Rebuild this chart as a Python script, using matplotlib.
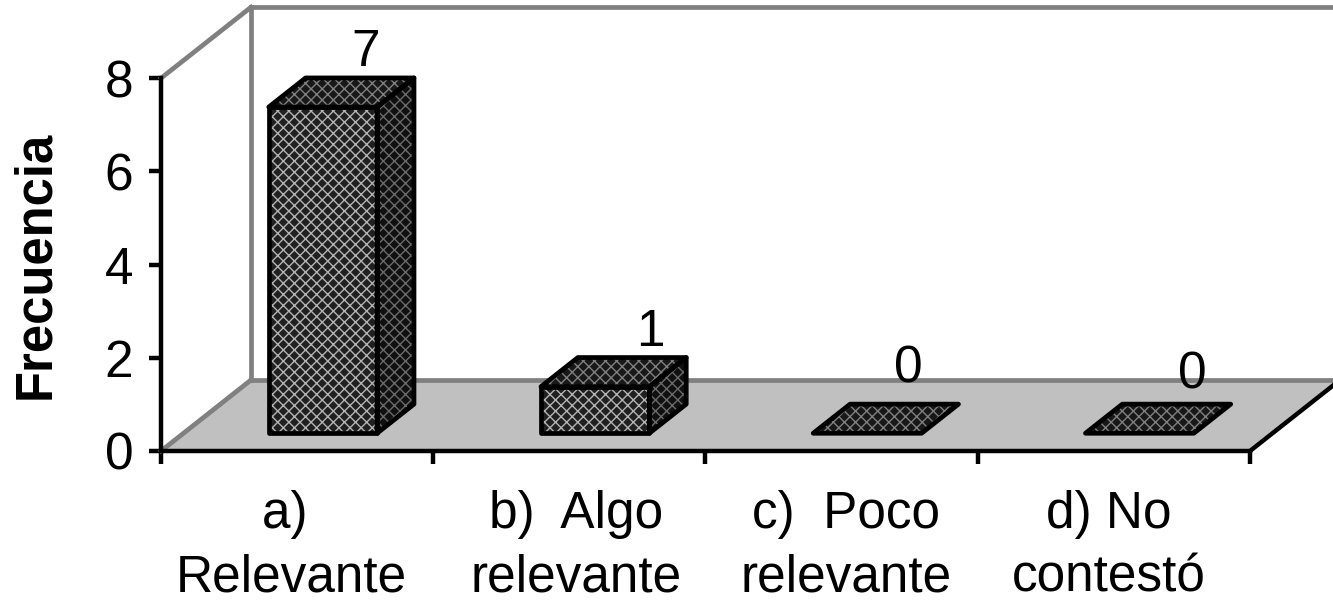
import matplotlib
matplotlib.use('Agg')
import matplotlib.pyplot as plt
from matplotlib.patches import Polygon

# values
categories = ['a) \nRelevante', 'b)  Algo\nrelevante', 'c)  Poco\nrelevante', 'd) No\ncontestó']
frecuencia = [7, 1, 0, 0]
y_ticks = [0, 2, 4, 6, 8]

plt.rcParams['font.family'] = ['Liberation Sans', 'DejaVu Sans']
plt.rcParams['hatch.linewidth'] = 1.0

W, H = 1333, 604
fig = plt.figure(figsize=(W / 100, H / 100), dpi=100)
ax = fig.add_axes([0, 0, 1, 1])

# one category = 272 px, one unit = 46.6 px, axis origin at pixel (161, 451)
px_x, px_y = 272.25, 46.6
ax.set_xlim(-161 / px_x, (W - 161) / px_x)
ax.set_ylim(-(H - 451) / px_y, 451 / px_y)

# oblique depth of the fake 3d box
depth_x, depth_y = 90 / px_x, 71 / px_y


def proj(x, v, d):
    return (x + d * depth_x, v + d * depth_y)


n = len(categories)
top = y_ticks[-1]
far = n + 1  # goes past the right border, gets clipped

# floor and walls
ax.add_patch(Polygon([proj(0, 0, 0), proj(n, 0, 0), proj(n, 0, 1), proj(0, 0, 1)],
                     facecolor='#c0c0c0', edgecolor='none', zorder=1))
wall = dict(color='#808080', lw=3.4, zorder=2, solid_capstyle='projecting')
for a, b in [(proj(0, 0, 0), proj(0, 0, 1)),
             (proj(0, 0, 1), proj(far, 0, 1)),
             (proj(0, 0, 1), proj(0, top, 1)),
             (proj(0, top, 0), proj(0, top, 1)),
             (proj(0, top, 1), proj(far, top, 1))]:
    ax.plot([a[0], b[0]], [a[1], b[1]], **wall)
ax.plot(*zip(proj(n, 0, 0), proj(n, 0, 1)), color='black', lw=3.2, zorder=3)

# bars
x0, x1 = 0.313, 0.711
d0, d1 = 0.25, 0.66
label_dx = [-48, -36, -50, -38]  # px from the back right corner
label_dy = [25, 25, 35, 29]  # px above the back top edge


def face(pts, color, lattice):
    ax.add_patch(Polygon(pts, facecolor=color, edgecolor=lattice, hatch='xxx', lw=0, zorder=4))
    ax.add_patch(Polygon(pts, fill=False, edgecolor='black', lw=3.4, joinstyle='round', zorder=5))


for i, val in enumerate(frecuencia):
    a, b = i + x0, i + x1
    if val > 0:
        face([proj(a, 0, d0), proj(b, 0, d0), proj(b, val, d0), proj(a, val, d0)], '#202020', '#b4b4b4')
        face([proj(b, 0, d0), proj(b, 0, d1), proj(b, val, d1), proj(b, val, d0)], '#101010', '#6a6a6a')
    face([proj(a, val, d0), proj(b, val, d0), proj(b, val, d1), proj(a, val, d1)], '#181818', '#808080')
    tx, ty = proj(b, val, d1)
    ax.text(tx + label_dx[i] / px_x, ty + label_dy[i] / px_y, str(val), fontsize=37,
            ha='center', va='center', zorder=6)

# axes
for side in ['top', 'right']:
    ax.spines[side].set_visible(False)
for side in ['left', 'bottom']:
    ax.spines[side].set_position(('data', 0))
    ax.spines[side].set_linewidth(3.2)
    ax.spines[side].set_zorder(3)
ax.spines['left'].set_bounds(0, top)
ax.spines['bottom'].set_bounds(0, n)
ax.patch.set_alpha(0)

ax.set_yticks(y_ticks)
ax.set_xticks(range(n + 1))
ax.set_xticklabels([])
# labels sit a little off the category middles in the picture
ax.set_xticks([0.48, 1.525, 2.515, 3.48], minor=True)
ax.set_xticklabels(categories, minor=True, fontsize=37, linespacing=1.38)
ax.tick_params(axis='y', direction='out', length=9, width=3.2, labelsize=37, pad=11)
ax.tick_params(axis='x', which='major', direction='out', length=9, width=3.2)
ax.tick_params(axis='x', which='minor', length=0, pad=28)

ax.set_ylabel('Frecuencia', fontsize=36.5, fontweight='bold', va='center')
ax.yaxis.set_label_coords(36 / W, 1 - 265 / H)

fig.savefig('out.png', dpi=100)
